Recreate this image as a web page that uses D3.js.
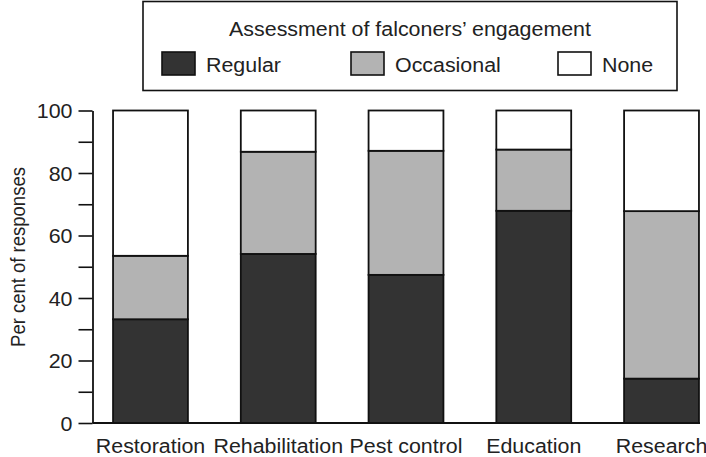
<!DOCTYPE html>
<html><head><meta charset="utf-8">
<script src="https://cdn.jsdelivr.net/npm/d3@7"></script>
<style>
body{margin:0;background:#fff}
text{font-family:"Liberation Sans",Arial,Helvetica,sans-serif;fill:#222}
</style></head>
<body><svg id="c" width="706" height="457"></svg>
<script>
const categories = ["Restoration","Rehabilitation","Pest control","Education","Research"];
const regular    = [33.2, 54.1, 47.4, 67.9, 14.2];
const occasional = [20.3, 32.7, 39.7, 19.6, 53.6];
const none       = [46.5, 13.2, 12.9, 12.5, 32.2];
const seriesNames  = ["Regular","Occasional","None"];
const seriesColors = ["#333333","#b3b3b3","#ffffff"];
const yTickValues  = [0,10,20,30,40,50,60,70,80,90,100];
const yLabelValues = [0,20,40,60,80,100];
const legendTitle = "Assessment of falconers’ engagement";
const yTitle = "Per cent of responses";

const SX = 1.07; // horizontal stretch of the original typesetting
const svg = d3.select("#c");

const rows = categories.map((c,i)=>({cat:c, Regular:regular[i], Occasional:occasional[i], None:none[i]}));
const stack = d3.stack().keys(seriesNames)(rows);

const x = d3.scaleBand().domain(categories).range([86.6,725.4]).paddingInner(0.414).paddingOuter(0.207);
const y = d3.scaleLinear().domain([0,100]).range([423,110.5]);
const color = d3.scaleOrdinal().domain(seriesNames).range(seriesColors);

function stext(g, str, tx, ty, anchor, size, extra){
  return g.append("text").attr("transform",`translate(${tx},${ty}) scale(${SX},1)` + (extra||""))
    .attr("text-anchor",anchor).style("font-size",size+"px").text(str);
}

// bars
svg.append("g").selectAll("g").data(stack).join("g")
  .attr("fill", d=>color(d.key))
  .selectAll("rect").data(d=>d).join("rect")
  .attr("x", d=>x(d.data.cat))
  .attr("width", x.bandwidth())
  .attr("y", d=>y(d[1]))
  .attr("height", d=>y(d[0])-y(d[1]))
  .attr("stroke","#111").attr("stroke-width",1.8);

// y axis
const ax = svg.append("g").attr("transform","translate(92.5,0)")
  .call(d3.axisLeft(y).tickValues(yTickValues).tickSize(14).tickSizeOuter(0)
    .tickFormat(d=> yLabelValues.includes(d) ? d : ""));
ax.select(".domain").attr("stroke","#111").attr("stroke-width",1.8);
ax.selectAll(".tick line").attr("stroke","#111").attr("stroke-width",1.6);
ax.selectAll(".tick text").each(function(){
  const t=d3.select(this);
  t.attr("transform",`translate(-20,0) scale(${SX},1)`).attr("x",0)
   .attr("dy","0.36em").style("font-size","20px").style("font-family",null).attr("fill","#222");
});

// x baseline
svg.append("line").attr("x1",92.5).attr("x2",700).attr("y1",y(0)).attr("y2",y(0))
  .attr("stroke","#111").attr("stroke-width",1.8);

// x labels
const xl = svg.append("g");
categories.forEach(c=> stext(xl, c, x(c)+x.bandwidth()/2, 453, "middle", 20));

// y title
stext(svg, yTitle, 25, 257, "middle", 18.5, " rotate(-90)");

// legend
const lg = svg.append("g");
lg.append("rect").attr("x",143).attr("y",1.5).attr("width",534).attr("height",89)
  .attr("fill","#fff").attr("stroke","#111").attr("stroke-width",1.6);
stext(lg, legendTitle, 410, 36, "middle", 20);
const legX = [162, 351, 558];
seriesNames.forEach((s,i)=>{
  lg.append("rect").attr("x",legX[i]).attr("y",52).attr("width",33).attr("height",23)
    .attr("fill",color(s)).attr("stroke","#111").attr("stroke-width",1.6);
  stext(lg, s, legX[i]+44, 72, "start", 20);
});
</script></body></html>
